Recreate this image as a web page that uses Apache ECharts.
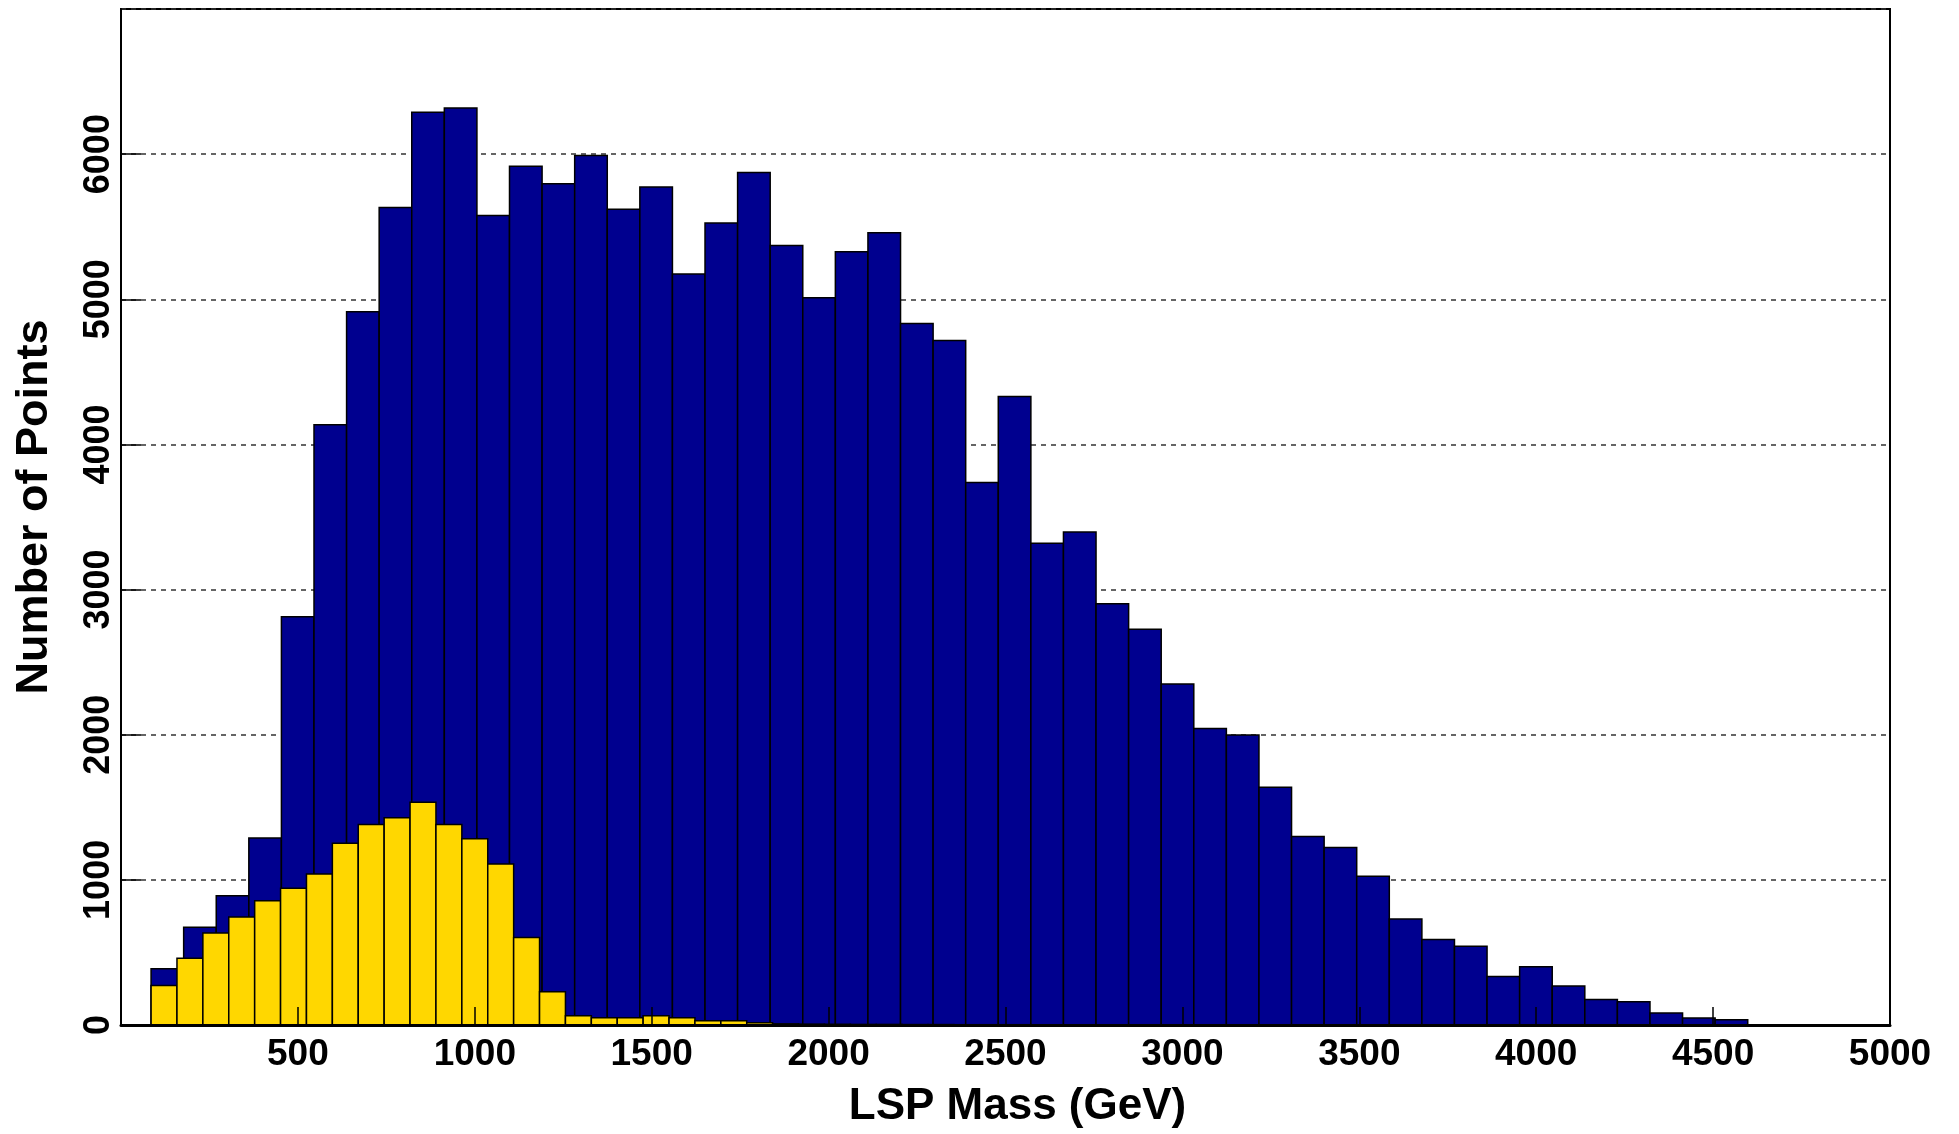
<!DOCTYPE html>
<html>
<head>
<meta charset="utf-8">
<script src="https://cdn.jsdelivr.net/npm/echarts@6/dist/echarts.min.js"></script>
<style>
html,body{margin:0;padding:0;background:#fff;}
#chart{width:1959px;height:1134px;}
</style>
</head>
<body>
<div id="chart"></div>
<script>
// ---- data ----
// histogram bin layout (GeV)
const blueBinStart = 85;
const blueBinWidth = 92.1;
const yellowBinStart = 85;
const yellowBinWidth = 73.2;

// counts per bin, all points (blue)
const blueCounts = [387, 673, 890, 1288, 2812, 4135, 4914, 5633, 6289, 6318,
  5578, 5916, 5796, 5990, 5620, 5774, 5174, 5525, 5873, 5370,
  5010, 5328, 5458, 4834, 4716, 3738, 4331, 3320, 3396, 2902,
  2727, 2349, 2043, 1998, 1638, 1298, 1223, 1025, 730, 589,
  542, 335, 401, 268, 176, 161, 82, 49, 37];

// counts per bin, selected subset (yellow)
const yellowCounts = [272, 460, 634, 744, 856, 943, 1041, 1252, 1382, 1428,
  1535, 1382, 1284, 1110, 602, 229, 64, 50, 50, 64,
  50, 30, 30, 15, 8, 6, 5, 4, 4, 3,
  3, 2, 2, 2, 1, 1, 1];

const xTicks = [0, 500, 1000, 1500, 2000, 2500, 3000, 3500, 4000, 4500, 5000];
const yTicks = [0, 1000, 2000, 3000, 4000, 5000, 6000, 7000];

const xTitle = 'LSP Mass (GeV)';
const yTitle = 'Number of Points';

// ---- build ----
function toBins(start, width, counts) {
  return counts.map((c, i) => [start + i * width, start + (i + 1) * width, c]);
}
const blueData = toBins(blueBinStart, blueBinWidth, blueCounts);
const yellowData = toBins(yellowBinStart, yellowBinWidth, yellowCounts);

function makeRender(fill) {
  return function (params, api) {
    const x0 = api.value(0), x1 = api.value(1), v = api.value(2);
    const p0 = api.coord([x0, 0]);
    const p1 = api.coord([x1, v]);
    return {
      type: 'rect',
      shape: { x: p0[0], y: p1[1], width: p1[0] - p0[0], height: p0[1] - p1[1] },
      style: { fill: fill, stroke: '#000', lineWidth: 1.5 }
    };
  };
}

const font = 'Liberation Sans, Arial, Helvetica, sans-serif';
const plain = v => String(v);
const chart = echarts.init(document.getElementById('chart'), null, { renderer: 'canvas' });
chart.setOption({
  animation: false,
  backgroundColor: '#fff',
  grid: { left: 121, top: 9, width: 1769, height: 1031, show: true, borderColor: '#000', borderWidth: 2, backgroundColor: 'transparent' },
  xAxis: {
    type: 'value', min: xTicks[0], max: xTicks[xTicks.length - 1], interval: 500,
    z: 10,
    axisLine: { lineStyle: { color: '#000', width: 3 } },
    axisTick: { inside: true, length: 18, lineStyle: { color: '#000', width: 1.5 } },
    axisLabel: { showMinLabel: false, formatter: plain, margin: 11, fontSize: 37, fontWeight: 'bold', fontFamily: font, color: '#000' },
    splitLine: { show: false },
    name: xTitle, nameLocation: 'middle', nameGap: 60,
    nameTextStyle: { fontSize: 44, fontWeight: 'bold', fontFamily: font, color: '#000', padding: [0, 0, 0, 24] }
  },
  yAxis: {
    type: 'value', min: yTicks[0], max: yTicks[yTicks.length - 1], interval: 1000,
    axisLine: { lineStyle: { color: '#000', width: 2 } },
    axisTick: { inside: true, length: 20, lineStyle: { color: '#000', width: 1.5 } },
    axisLabel: { showMaxLabel: false, formatter: plain, rotate: 90, margin: 4, fontSize: 36, fontWeight: 'bold', fontFamily: font, color: '#000' },
    splitLine: { show: true, lineStyle: { color: '#333', width: 1.5, type: [5, 5] } },
    name: yTitle, nameLocation: 'middle', nameGap: 64,
    nameTextStyle: { fontSize: 45, fontWeight: 'bold', fontFamily: font, color: '#000', padding: [0, 0, 0, 20] }
  },
  series: [
    { type: 'custom', renderItem: makeRender('#00008f'), data: blueData, encode: { x: [0, 1], y: 2 }, z: 2 },
    { type: 'custom', renderItem: makeRender('#ffd700'), data: yellowData, encode: { x: [0, 1], y: 2 }, z: 3 }
  ]
});
</script>
</body>
</html>
